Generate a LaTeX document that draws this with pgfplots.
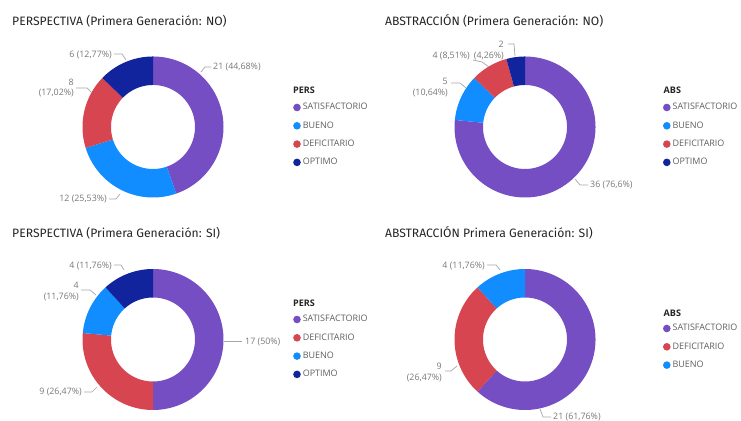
\documentclass[border=0pt]{standalone}
\usepackage{fontspec}
\setmainfont{Open Sans}
\newfontfamily\titlefont{Fira Sans}
\usepackage{pgfplots}
\usepackage{pgfplotstable}
\pgfplotsset{compat=1.18}

\definecolor{SATISFACTORIO}{HTML}{744EC2}
\definecolor{BUENO}{HTML}{118DFF}
\definecolor{DEFICITARIO}{HTML}{D64550}
\definecolor{OPTIMO}{HTML}{12239E}
\definecolor{titlec}{HTML}{252423}
\definecolor{labc}{HTML}{777777}
\definecolor{legc}{HTML}{605E5C}
\definecolor{leadc}{HTML}{A6A6A6}

% data (counts per category, clockwise from top)
\pgfplotstableread{
cat n
SATISFACTORIO 21
BUENO 12
DEFICITARIO 8
OPTIMO 6
}\persno
\pgfplotstableread{
cat n
SATISFACTORIO 36
BUENO 5
DEFICITARIO 4
OPTIMO 2
}\absno
\pgfplotstableread{
cat n
SATISFACTORIO 17
DEFICITARIO 9
BUENO 4
OPTIMO 4
}\perssi
\pgfplotstableread{
cat n
SATISFACTORIO 21
DEFICITARIO 9
BUENO 4
}\abssi

\def\Ro{70.5}
\def\Ri{42}

\newcommand\donut[3]{%
  \pgfplotstablegetrowsof{#1}%
  \pgfmathtruncatemacro\nlast{\pgfplotsretval-1}%
  \def\tot{0}%
  \pgfplotsforeachungrouped \i in {0,...,\nlast}{%
    \pgfplotstablegetelem{\i}{n}\of{#1}%
    \pgfmathsetmacro\tot{\tot+\pgfplotsretval}}%
  \def\cum{0}%
  \pgfplotsforeachungrouped \i in {0,...,\nlast}{%
    \pgfplotstablegetelem{\i}{n}\of{#1}\let\val\pgfplotsretval
    \pgfplotstablegetelem{\i}{cat}\of{#1}\let\cat\pgfplotsretval
    \pgfmathsetmacro\aA{90-\cum/\tot*360}%
    \pgfmathsetmacro\cum{\cum+\val}%
    \pgfmathsetmacro\aB{90-\cum/\tot*360}%
    \edef\temp{\noexpand\addplot[fill=\cat, draw=none]
      ({#2+(x<=1?\Ro:\Ri)*cos(x<=1?\aA+(\aB-\aA)*min(1,x/0.98):\aB-(\aB-\aA)*max(0,min(1,(x-1.02)/0.96)))},
       {-#3+(x<=1?\Ro:\Ri)*sin(x<=1?\aA+(\aB-\aA)*min(1,x/0.98):\aB-(\aB-\aA)*max(0,min(1,(x-1.02)/0.96)))});
      \noexpand\addlegendentry{\cat}}%
    \temp
  }%
}

\pgfplotsset{panel/.style={
  at={(0,0)}, anchor=south west,
  width=741bp, height=421bp, scale only axis,
  xmin=0, xmax=741, ymin=-421, ymax=0,
  hide axis, clip=false,
  domain=0:2, samples=301,
  legend image code/.code={\fill[##1] (0bp,0bp) circle (3.8bp);},
  legend style={draw=none, fill=none, inner sep=0pt, outer sep=0pt,
    anchor=north west, legend cell align=left,
    font=\fontsize{9.0}{11}\selectfont, text=legc, row sep=9.3bp,
    nodes={inner sep=0pt, text height=7bp, text depth=2bp},
    /tikz/every odd column/.style={column sep=2bp}},
}}

\tikzset{
  ttl/.style={anchor=west, inner sep=0pt, font=\titlefont\fontsize{12.2}{14}\selectfont, text=titlec},
  lgt/.style={anchor=west, inner sep=0pt, font=\fontsize{9.1}{11}\selectfont\bfseries, text=titlec},
  lab/.style={inner sep=0pt, font=\fontsize{8.9}{11}\selectfont, text=labc, align=right},
  lead/.style={draw=leadc, line width=0.7bp},
}

\begin{document}
\begin{tikzpicture}
\path[use as bounding box] (0,0) rectangle (741bp,421bp);

% ---------- PERSPECTIVA NO ----------
\begin{axis}[panel, legend style={at={(293.2/741,1-103/421)}}]
\donut{\persno}{153}{127}
\node[ttl] at (axis cs:12,-21) {PERSPECTIVA (Primera Generación: NO)};
\node[lgt] at (axis cs:293,-90) {PERS};
\node[lab, anchor=east] at (axis cs:112,-55) {6 (12,77\%)};
\draw[lead] (axis cs:114,-54) -- (axis cs:122,-54) -- (axis cs:126,-60);
\node[lab, anchor=east] at (axis cs:74,-88) {8\\(17,02\%)};
\draw[lead] (axis cs:76,-88) -- (axis cs:87,-88) -- (axis cs:92,-93);
\node[lab, anchor=east] at (axis cs:107,-199) {12 (25,53\%)};
\draw[lead] (axis cs:109,-199) -- (axis cs:116,-199) -- (axis cs:120,-194);
\node[lab, anchor=west] at (axis cs:213,-67) {21 (44,68\%)};
\draw[lead] (axis cs:201,-72) -- (axis cs:205,-67) -- (axis cs:211,-67);
\end{axis}

% ---------- ABSTRACCION NO ----------
\begin{axis}[panel, legend style={at={(663/741,1-103/421)}}]
\donut{\absno}{525}{127}
\node[ttl] at (axis cs:385,-21) {ABSTRACCIÓN (Primera Generación: NO)};
\node[lgt] at (axis cs:663.5,-90) {ABS};
\node[lab, anchor=east] at (axis cs:504,-50.5) {2\\(4,26\%)};
\draw[lead] (axis cs:508,-44) -- (axis cs:514,-44) -- (axis cs:515,-56);
\node[lab, anchor=east] at (axis cs:470,-56) {4 (8,51\%)};
\draw[lead] (axis cs:473,-60) -- (axis cs:482,-62) -- (axis cs:489,-67);
\node[lab, anchor=east] at (axis cs:448,-87.5) {5\\(10,64\%)};
\draw[lead] (axis cs:451,-83) -- (axis cs:460,-83) -- (axis cs:466,-88);
\node[lab, anchor=west] at (axis cs:590,-185) {36 (76,6\%)};
\draw[lead] (axis cs:575,-179) -- (axis cs:580,-185) -- (axis cs:588,-185);
\end{axis}

% ---------- PERSPECTIVA SI ----------
\begin{axis}[panel, legend style={at={(293.2/741,1-315/421)}}]
\donut{\perssi}{153}{339.5}
\node[ttl] at (axis cs:12,-233) {PERSPECTIVA (Primera Generación: SI)};
\node[lgt] at (axis cs:293,-303) {PERS};
\node[lab, anchor=east] at (axis cs:112,-266) {4 (11,76\%)};
\draw[lead] (axis cs:114,-265) -- (axis cs:121,-265) -- (axis cs:124,-270);
\node[lab, anchor=east] at (axis cs:79,-291.5) {4\\(11,76\%)};
\draw[lead] (axis cs:81,-290) -- (axis cs:90,-290) -- (axis cs:96,-295);
\node[lab, anchor=east] at (axis cs:82,-392) {9 (26,47\%)};
\draw[lead] (axis cs:84,-392) -- (axis cs:92,-392) -- (axis cs:97,-387);
\node[lab, anchor=west] at (axis cs:245,-342) {17 (50\%)};
\draw[lead] (axis cs:224,-341) -- (axis cs:242,-341);
\end{axis}

% ---------- ABSTRACCION SI ----------
\begin{axis}[panel, legend style={at={(663/741,1-324/421)}}]
\donut{\abssi}{525}{339.5}
\node[ttl] at (axis cs:385,-233) {ABSTRACCIÓN Primera Generación: SI)};
\node[lgt] at (axis cs:663.5,-313) {ABS};
\node[lab, anchor=east] at (axis cs:485,-266) {4 (11,76\%)};
\draw[lead] (axis cs:487,-265) -- (axis cs:496,-265) -- (axis cs:500,-270);
\node[lab, anchor=east] at (axis cs:442,-372.5) {9\\(26,47\%)};
\draw[lead] (axis cs:445,-371) -- (axis cs:451,-371) -- (axis cs:457,-366);
\node[lab, anchor=west] at (axis cs:553,-417) {21 (61,76\%)};
\draw[lead] (axis cs:540,-409) -- (axis cs:543,-417) -- (axis cs:551,-417);
\end{axis}
\end{tikzpicture}
\end{document}
